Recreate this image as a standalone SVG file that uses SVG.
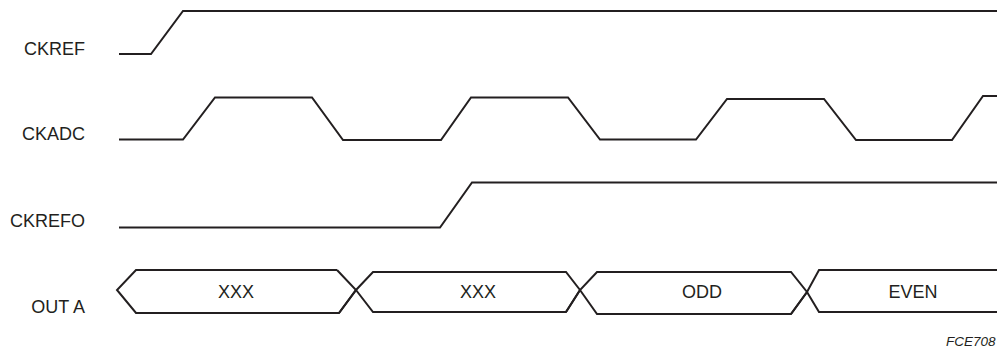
<svg xmlns="http://www.w3.org/2000/svg" width="997" height="349" viewBox="0 0 997 349">
<style>
.w{fill:none;stroke:#231f20;stroke-width:2;stroke-linejoin:miter}
.lbl{font-family:"Liberation Sans",Arial,sans-serif;font-size:18px;fill:#231f20}
.v{font-family:"Liberation Sans",Arial,sans-serif;font-size:18px;fill:#231f20;text-anchor:middle}
</style>
<rect width="997" height="349" fill="#fff"/>
<g id="labels">
<text class="lbl" x="85" y="55" text-anchor="end">CKREF</text>
<text class="lbl" x="85" y="140" text-anchor="end">CKADC</text>
<text class="lbl" x="85" y="227" text-anchor="end">CKREFO</text>
<text class="lbl" x="85" y="313" text-anchor="end">OUT A</text>
</g>
<g id="connectors">
<polyline id="ckref" class="w" points="119,54 151,54 183,11 997,11"/>
<polyline id="ckadc" class="w" points="119,139.5 183,139.5 215,97.5 312,97.5 343,140 441,140 471,97.5 568,97.5 600,139.5 696,139.5 727,99 824,99 856,140 952,140 983,96 997,96"/>
<polyline id="ckrefo" class="w" points="119,227.5 440,227.5 472,182.5 997,182.5"/>
</g>
<g id="outa" class="w">
<polyline points="337,270 136,270 117,290 136,313 339,313 356,290 337,270"/>
<polyline points="339,313 356,290 373,272 566,272 580,290 566,312 373,312 356,290"/>
<polyline points="566,312 580,290 597,272 791,272 807,292 791,314 597,314 580,290"/>
<polyline points="791,314 807,292 819,270 997,270"/>
<polyline points="807,292 819,312 997,312"/>
</g>
<g id="values">
<text class="v" x="236" y="298">XXX</text>
<text class="v" x="478" y="298">XXX</text>
<text class="v" x="702" y="298">ODD</text>
<text class="v" x="913" y="298">EVEN</text>
</g>
<text x="946" y="346" font-family="Liberation Sans,Arial,sans-serif" font-size="13.5" font-style="italic" fill="#231f20">FCE708</text>
</svg>
